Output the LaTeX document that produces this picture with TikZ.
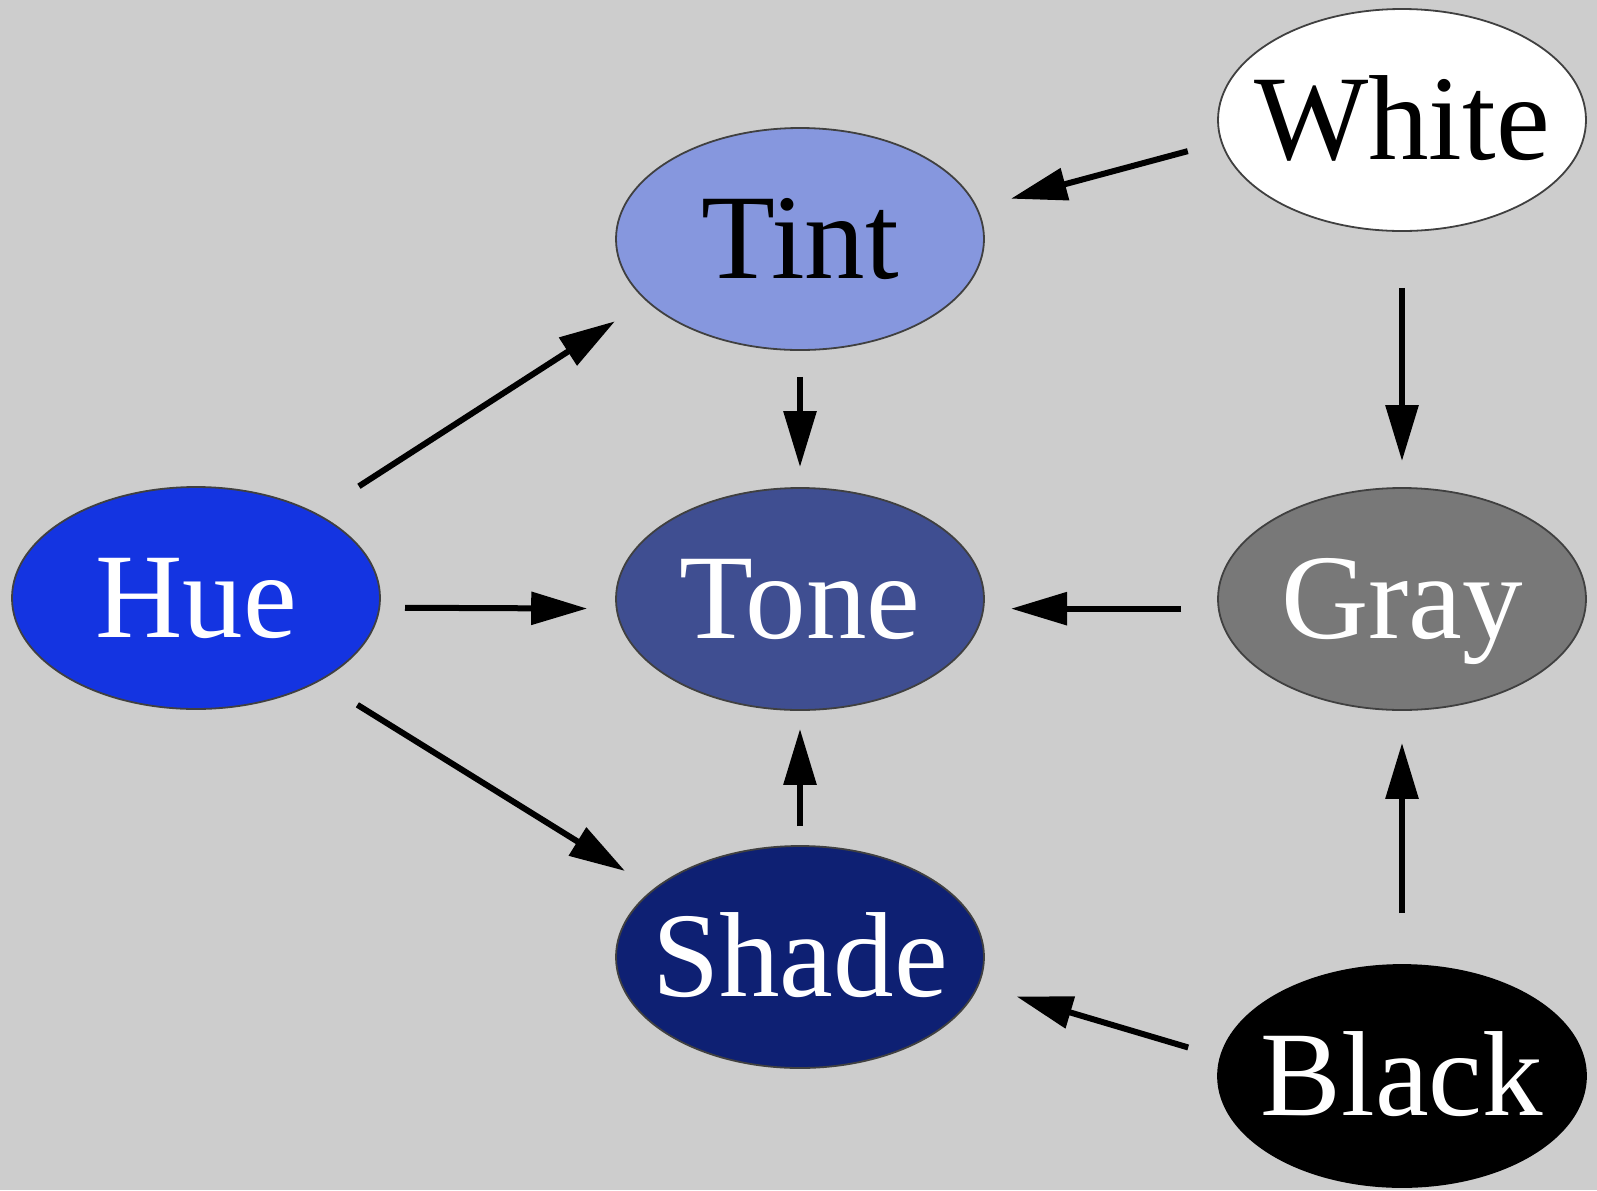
\documentclass[tikz,border=0pt]{standalone}
\usepackage{fontspec}
\setmainfont{Liberation Serif}
\usepackage{tikz}
\usetikzlibrary{shapes.geometric,arrows.meta}
\definecolor{bgcolor}{RGB}{205,205,205}
\definecolor{tintcolor}{RGB}{134,151,222}
\definecolor{huecolor}{RGB}{20,52,225}
\definecolor{tonecolor}{RGB}{63,78,145}
\definecolor{graycolor}{RGB}{120,120,120}
\definecolor{shadecolor}{RGB}{14,32,115}
\tikzset{
    color node/.style={ellipse, draw=black!75, line width=0.9pt, minimum width=184pt, minimum height=111pt, inner xsep=-12pt, inner ysep=0pt, text height=39pt, text depth=0pt, font=\fontsize{60.5}{70}\selectfont},
    light node/.style={color node, text=black},
    dark node/.style={color node, text=white},
    mix arrow/.style={-{Triangle[length=28pt,width=16pt]}, line width=3pt, black}
}

\begin{document}
\begin{tikzpicture}[x=0.5pt,y=-0.5pt]
\fill[bgcolor] (0,0) rectangle (1597,1190);
\useasboundingbox (0,0) rectangle (1597,1190);
% colour nodes
\node[light node, fill=white] (white) at (1402,120) {White};
\node[light node, fill=tintcolor] (tint) at (800,239) {Tint};
\node[dark node, fill=huecolor] (hue) at (196,598) {Hue};
\node[dark node, fill=tonecolor] (tone) at (800,599) {Tone};
\node[dark node, fill=graycolor] (gray) at (1402,599) {Gray};
\node[dark node, fill=shadecolor] (shade) at (800,957) {Shade};
\node[dark node, fill=black, draw=black] (black) at (1402,1076) {Black};
% mixing arrows
\draw[mix arrow, shorten <=17.1pt, shorten >=17.3pt] (white.187.4) -- (tint.10);
\draw[mix arrow, shorten <=25pt, shorten >=18.6pt] (hue.35.9) -- (tint.202.1);
\draw[mix arrow, shorten <=13pt, shorten >=10pt] (tint.south) -- (tone.north);
\draw[mix arrow, shorten <=12.4pt, shorten >=14.3pt] (hue.-3) -- (tone.183);
\draw[mix arrow, shorten <=18.4pt, shorten >=13.4pt] (gray.183) -- (tone.-3);
\draw[mix arrow, shorten <=28pt, shorten >=13pt] (white.south) -- (gray.north);
\draw[mix arrow, shorten <=22.3pt, shorten >=16.8pt] (hue.-34.5) -- (shade.155.8);
\draw[mix arrow, shorten <=9.5pt, shorten >=9pt] (shade.north) -- (tone.south);
\draw[mix arrow, shorten <=25.5pt, shorten >=16pt] (black.north) -- (gray.south);
\draw[mix arrow, shorten <=16.5pt, shorten >=19.7pt] (black.174) -- (shade.-9.6);
\end{tikzpicture}
\end{document}
